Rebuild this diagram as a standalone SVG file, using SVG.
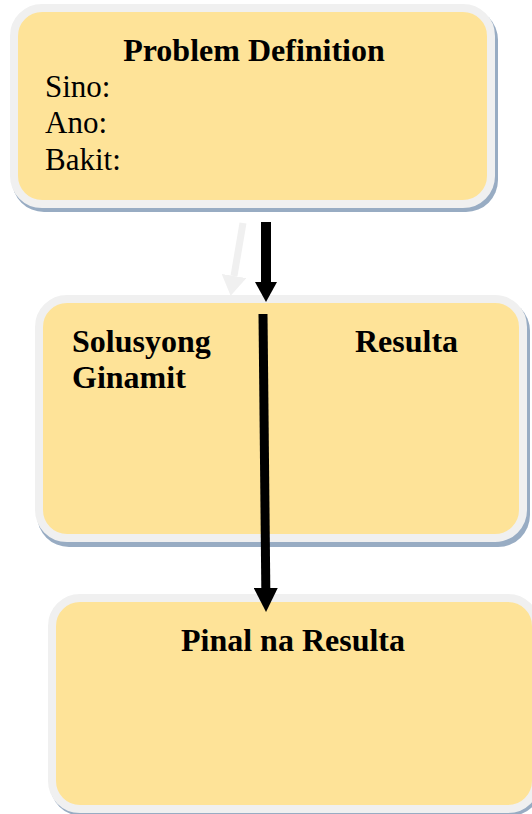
<svg xmlns="http://www.w3.org/2000/svg" width="532" height="814" viewBox="0 0 532 814">
<style>
.shadow{fill:#98acc3}
.box{fill:#fee398;stroke:#f0f0f0;stroke-width:8}
.t{font-family:"Liberation Serif","Times New Roman",serif;fill:#000}
.b{font-weight:bold;font-size:32px}
.r{font-size:31px}
</style>
<defs>
<marker id="ah1" viewBox="0 0 20 22" refX="0" refY="11" markerWidth="20" markerHeight="22" orient="auto" markerUnits="userSpaceOnUse">
<path d="M0,0 L20,11 L0,22 Z" fill="#000"/>
</marker>
<marker id="ah2" viewBox="0 0 24 24" refX="0" refY="12" markerWidth="24" markerHeight="24" orient="auto" markerUnits="userSpaceOnUse">
<path d="M0,0 L24,12 L0,24 Z" fill="#000"/>
</marker>
<marker id="ahg" viewBox="0 0 20 25" refX="0" refY="12.5" markerWidth="20" markerHeight="25" orient="auto" markerUnits="userSpaceOnUse">
<path d="M0,0 L20,12.5 L0,25 Z" fill="#f0f0f0"/>
</marker>
</defs>
<g id="connectors-back">
<line x1="243" y1="223" x2="234" y2="276" stroke="#f0f0f0" stroke-width="7" marker-end="url(#ahg)"/>
</g>
<g id="node-problem">
<rect class="shadow" x="12" y="8" width="486" height="204" rx="32"/>
<rect class="box" x="14" y="8" width="477" height="196" rx="28"/>
<text class="t b" x="254" y="61" text-anchor="middle">Problem Definition</text>
<text class="t r" x="45" y="97">Sino:</text>
<text class="t r" x="45" y="133">Ano:</text>
<text class="t r" x="45" y="170">Bakit:</text>
</g>
<g id="node-solusyon">
<rect class="shadow" x="37" y="299" width="493" height="248" rx="32"/>
<rect class="box" x="39" y="299" width="484" height="239" rx="28"/>
<text class="t b" x="72" y="352">Solusyong</text>
<text class="t b" x="72" y="388">Ginamit</text>
<text class="t b" x="355" y="352">Resulta</text>
</g>
<g id="node-pinal">
<rect class="shadow" x="50" y="598" width="492" height="218" rx="32"/>
<rect class="box" x="52" y="598" width="484" height="211" rx="28"/>
<text class="t b" x="293" y="651" text-anchor="middle">Pinal na Resulta</text>
</g>
<g id="connectors">
<line x1="266" y1="222" x2="266" y2="282" stroke="#000" stroke-width="10" marker-end="url(#ah1)"/>
<line x1="263" y1="314" x2="265.8" y2="588" stroke="#000" stroke-width="9" marker-end="url(#ah2)"/>
</g>
</svg>
